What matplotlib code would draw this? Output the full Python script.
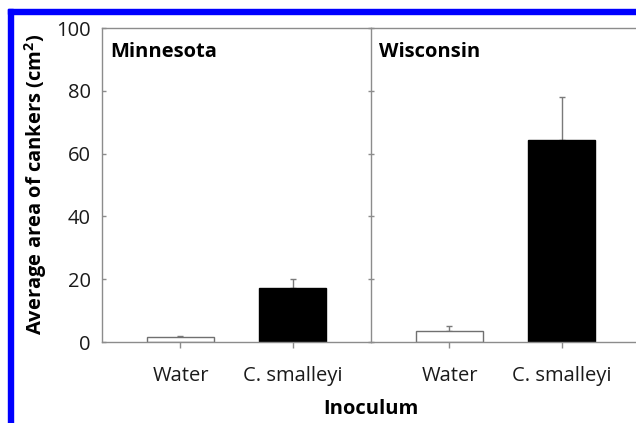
import matplotlib
matplotlib.use('Agg')
import matplotlib.pyplot as plt
from matplotlib.patches import Rectangle

plt.rcParams['font.family'] = ['Open Sans', 'DejaVu Sans']
plt.rcParams['mathtext.fontset'] = 'custom'
plt.rcParams['mathtext.rm'] = 'Open Sans'
plt.rcParams['mathtext.bf'] = 'Open Sans:bold'

sites = ['Minnesota', 'Wisconsin']
treatments = ['Water', 'C. smalleyi']
means = {'Minnesota': [1.7, 17.2], 'Wisconsin': [3.5, 64.4]}
errors = {'Minnesota': [0.2, 2.8], 'Wisconsin': [1.5, 13.6]}
bar_colors = ['white', 'black']

W, H = 636, 423
fig = plt.figure(figsize=(W / 100, H / 100), dpi=100)

spine_col = '#8c8c8c'
text_col = '#1a1a1a'
x0, x1, ytop, ybot = 102, 371, 28, 342
pw = x1 - x0
axes = []
for i, site in enumerate(sites):
    left = (x0 + i * pw) / W
    ax = fig.add_axes([left, (H - ybot) / H, pw / W, (ybot - ytop) / H])
    axes.append(ax)
    pos = list(range(len(treatments)))
    ax.bar(pos, means[site], width=0.6, color=bar_colors,
           edgecolor=['#707070', 'black'], linewidth=1.0, zorder=2)
    ax.errorbar(pos, means[site], yerr=[[0, 0], errors[site]], fmt='none',
                ecolor='#7a7a7a', elinewidth=1.0, capsize=2.5, capthick=1.0,
                zorder=1)
    ax.set_xlim(-0.70, 1.70)
    ax.set_ylim(0, 100)
    ax.set_xticks(pos)
    ax.set_xticklabels(treatments, fontsize=14.5, color=text_col)
    ax.tick_params(axis='x', direction='out', length=4, width=1,
                   color=spine_col, pad=13)
    ax.set_yticks([0, 20, 40, 60, 80, 100])
    for s in ax.spines.values():
        s.set_color(spine_col)
        s.set_linewidth(1.0)
    ax.spines['right'].set_visible(False)
    ax.text(0.03, 0.955, site, transform=ax.transAxes, fontsize=14.5,
            fontweight='bold', va='top', ha='left')
    if i == 0:
        ax.tick_params(axis='y', direction='in', length=3, width=1,
                       color=spine_col, labelsize=14.5, labelcolor=text_col,
                       pad=8)
    else:
        ax.tick_params(axis='y', direction='inout', length=5, width=1,
                       color=spine_col, labelleft=False)

fig.text(36 / W, 1 - 184 / H, r'Average area of cankers (cm$^{\mathbf{2}}$)',
         rotation=90, fontsize=14.5, fontweight='bold', ha='center',
         va='center')
fig.text(x1 / W, 1 - 409 / H, 'Inoculum', fontsize=14.5, fontweight='bold',
         ha='center', va='center')

# blue frame along the top and left edges
fig.patches.append(Rectangle((8 / W, 0), 5 / W, 1 - 9 / H, color='#0000ff',
                             transform=fig.transFigure, figure=fig))
fig.patches.append(Rectangle((8 / W, 1 - 14 / H), 1, 5 / H, color='#0000ff',
                             transform=fig.transFigure, figure=fig))

fig.savefig('out.png', dpi=100)
